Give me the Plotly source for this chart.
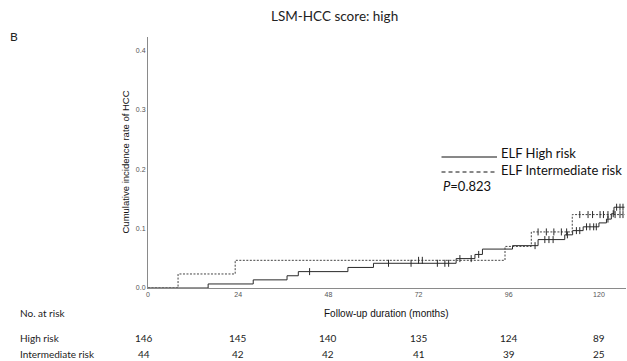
import plotly.graph_objects as go

# ---------------- data ----------------
high_times = [0, 16, 28, 37, 40, 53.2, 60, 82, 87, 89, 97, 103.8, 110.9, 113, 115.8, 120, 122, 123.3, 124, 126.8]
high_vals = [0, 0.0068, 0.0137, 0.0206, 0.0276, 0.0346, 0.0416, 0.0495, 0.0565, 0.0655, 0.0713,
             0.0815, 0.0895, 0.0966, 0.103, 0.1096, 0.116, 0.125, 0.136, 0.136]
high_censor = [43, 64, 70, 77, 79, 80, 83, 86, 88, 103, 105.6, 106.7, 107.8, 111.6, 114, 114.9,
               116.7, 117.6, 118.6, 119.3, 122.4, 123.8, 124.7, 125.6, 126.4]

int_times = [0, 8, 23.2, 95, 102, 112.9, 126.8]
int_vals = [0, 0.0236, 0.0466, 0.070, 0.0944, 0.1236, 0.1236]
int_censor = [72, 73, 103.8, 106, 108, 110, 111.4, 114.9, 117.1, 118.3, 120.3, 121.2, 122.4,
              124.3, 125.6, 126.4]

x_ticks = [0, 24, 48, 72, 96, 120]
y_ticks = [0.0, 0.1, 0.2, 0.3, 0.4]
at_risk_high = [146, 145, 140, 135, 124, 89]
at_risk_int = [44, 42, 42, 41, 39, 25]

title = "LSM-HCC score: high"
panel = "B"
y_title = "Cumulative incidence rate of HCC"
x_title = "Follow-up duration (months)"
legend_labels = ["ELF High risk", "ELF Intermediate risk"]
p_text = "<i>P</i>=0.823"


def step_at(times, vals, t):
    v = vals[0]
    for ti, vi in zip(times, vals):
        if ti <= t:
            v = vi
    return v


# ---------------- layout geometry ----------------
W, H = 627, 361
PL, PR, PT, PB = 148, 626, 37, 288  # plot area in page pixels
ML, MT = PL, PT
MR = W - PR
MB = H - PB
PW, PH = PR - PL, PB - PT
XMAX = 127.2


def px(x):
    return (x - PL) / PW


def py(y):
    return (PB - y) / PH


fig = go.Figure()

fig.add_trace(go.Scatter(x=high_times, y=high_vals, mode="lines", line_shape="hv",
                         line=dict(color="#2a2a2a", width=1), showlegend=False, hoverinfo="skip"))
fig.add_trace(go.Scatter(x=int_times, y=int_vals, mode="lines", line_shape="hv",
                         line=dict(color="#444", width=1, dash="2px,1.5px"), showlegend=False,
                         hoverinfo="skip"))
fig.add_trace(go.Scatter(x=high_censor, y=[step_at(high_times, high_vals, t) for t in high_censor],
                         mode="markers",
                         marker=dict(symbol="line-ns", size=5, line=dict(color="#2a2a2a", width=1)),
                         showlegend=False, hoverinfo="skip"))
fig.add_trace(go.Scatter(x=int_censor, y=[step_at(int_times, int_vals, t) for t in int_censor],
                         mode="markers",
                         marker=dict(symbol="line-ns", size=5, line=dict(color="#2a2a2a", width=1)),
                         showlegend=False, hoverinfo="skip"))

ann = []
cal = "Lato, Carlito, sans-serif"
ari = "Liberation Sans, Arial, sans-serif"


def add_text(text, x, y, xa="center", size=10, family=cal, color="#222", angle=0):
    ann.append(dict(text=text, x=px(x), y=py(y), xref="paper", yref="paper", showarrow=False,
                    xanchor=xa, yanchor="middle", textangle=angle,
                    font=dict(family=family, size=size, color=color)))


add_text(title, 334, 16, size=13.5)
add_text(panel, 8, 36, xa="left", size=12)
add_text(y_title, 125, 162.5, size=9.5, family=ari, color="#111", angle=-90)
add_text(x_title, 386, 313, size=10, family=ari, color="#111")
add_text("No. at risk", 18, 313, xa="left")
add_text("High risk", 18, 338, xa="left")
add_text("Intermediate risk", 18, 354, xa="left")
for i, (t, a, b) in enumerate(zip(x_ticks, at_risk_high, at_risk_int)):
    xx = PL + t * PW / XMAX
    if i == 0:
        xx = 144
    add_text(str(a), xx, 338)
    add_text(str(b), xx, 354)

add_text(legend_labels[0], 499, 153, xa="left", size=13, color="#111")
add_text(legend_labels[1], 499, 170, xa="left", size=13, color="#111")
add_text(p_text, 441, 186, xa="left", size=13, color="#111")

shapes = [
    dict(type="line", xref="paper", yref="paper", x0=px(441.5), x1=px(497), y0=py(157), y1=py(157),
         line=dict(color="#111", width=1)),
    dict(type="line", xref="paper", yref="paper", x0=px(441.5), x1=px(497), y0=py(172), y1=py(172),
         line=dict(color="#111", width=1, dash="4px,3px")),
]

fig.update_layout(
    width=W, height=H, margin=dict(l=ML, r=MR, t=MT, b=MB, autoexpand=False),
    paper_bgcolor="white", plot_bgcolor="white",
    annotations=ann, shapes=shapes, showlegend=False,
    xaxis=dict(range=[0, XMAX], tickvals=x_ticks, ticktext=[str(t) for t in x_ticks],
               showgrid=False, zeroline=False, showline=True, linecolor="#8a8a8a", linewidth=1,
               ticks="", tickfont=dict(family=ari, size=7, color="#555"), fixedrange=True,
               automargin=False),
    yaxis=dict(range=[0, PH / 594.0], tickvals=y_ticks, ticktext=[f"{v:.1f}" for v in y_ticks],
               showgrid=False, zeroline=False, showline=True, linecolor="#8a8a8a", linewidth=1,
               ticks="", tickfont=dict(family=ari, size=7, color="#555"), fixedrange=True,
               automargin=False),
)

fig.write_html(
    "out.html",
    config={"displayModeBar": False, "staticPlot": True},
    post_script="document.body.style.margin='0';document.body.style.overflow='hidden';",
)
